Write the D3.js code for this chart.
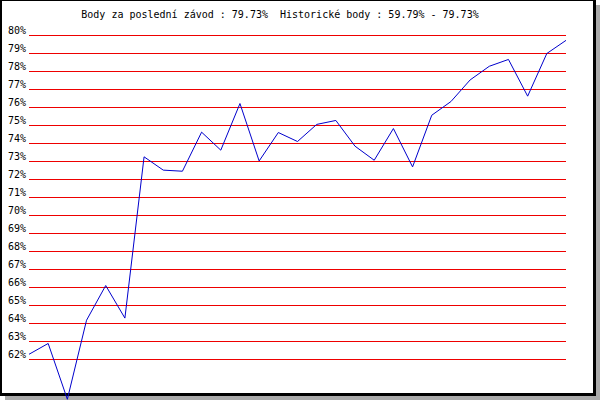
<!DOCTYPE html>
<html>
<head>
<meta charset="utf-8">
<script src="https://cdn.jsdelivr.net/npm/d3@7"></script>
<style>
  body { margin: 0; background: #fff; }
  svg text { font-family: "DejaVu Sans Mono", monospace; font-size: 10px; fill: #000; white-space: pre; }
</style>
</head>
<body>
<svg id="chart" width="600" height="400"></svg>
<script>
var TITLE = "Body za poslední závod : 79.73%  Historické body : 59.79% - 79.73%";

// body (%) po jednotlivych zavodech
var points = [62.29, 62.89, 59.79, 64.18, 66.11, 64.3, 73.26, 72.52, 72.46, 74.63,
  73.63, 76.22, 73.03, 74.61, 74.11, 75.06, 75.28, 73.85, 73.07, 74.83,
  72.7, 75.57, 76.33, 77.53, 78.29, 78.67, 76.63, 79.0, 79.73];

var gridTicks = d3.range(62, 81); // 62% .. 80%

var svg = d3.select("#chart");

// shadow + frame
svg.append("rect").attr("x", 596).attr("y", 5).attr("width", 4).attr("height", 395).attr("fill", "#aaa");
svg.append("rect").attr("x", 5).attr("y", 396).attr("width", 595).attr("height", 4).attr("fill", "#aaa");
svg.append("rect").attr("x", 0).attr("y", 0).attr("width", 596).attr("height", 1).attr("fill", "#000");
svg.append("rect").attr("x", 0).attr("y", 0).attr("width", 2).attr("height", 395).attr("fill", "#000");
svg.append("rect").attr("x", 593).attr("y", 0).attr("width", 3).attr("height", 396).attr("fill", "#000");
svg.append("rect").attr("x", 0).attr("y", 393).attr("width", 596).attr("height", 3).attr("fill", "#000");

var xScale = d3.scaleLinear()
  .domain([0, points.length - 1])
  .range([29, 566]);

var yScale = d3.scaleLinear()
  .domain([62, 80])
  .range([359.5, 35.5]);

svg.append("text")
  .attr("x", 280)
  .attr("y", 18)
  .attr("text-anchor", "middle")
  .attr("xml:space", "preserve")
  .text(TITLE);

// horizontal grid, red
svg.selectAll(".grid")
  .data(gridTicks)
  .enter().append("line")
  .attr("class", "grid")
  .attr("x1", 29)
  .attr("x2", 566)
  .attr("y1", function(d) { return yScale(d); })
  .attr("y2", function(d) { return yScale(d); })
  .attr("stroke", "#e00")
  .attr("stroke-width", 1)
  .attr("shape-rendering", "crispEdges");

svg.selectAll(".ylab")
  .data(gridTicks)
  .enter().append("text")
  .attr("class", "ylab")
  .attr("x", 8)
  .attr("y", function(d) { return yScale(d) - 2; })
  .text(function(d) { return d + "%"; });

var line = d3.line()
  .x(function(d, i) { return xScale(i); })
  .y(function(d) { return yScale(d); });

svg.append("path")
  .datum(points)
  .attr("d", line)
  .attr("fill", "none")
  .attr("stroke", "#00c")
  .attr("stroke-width", 1);
</script>
</body>
</html>
